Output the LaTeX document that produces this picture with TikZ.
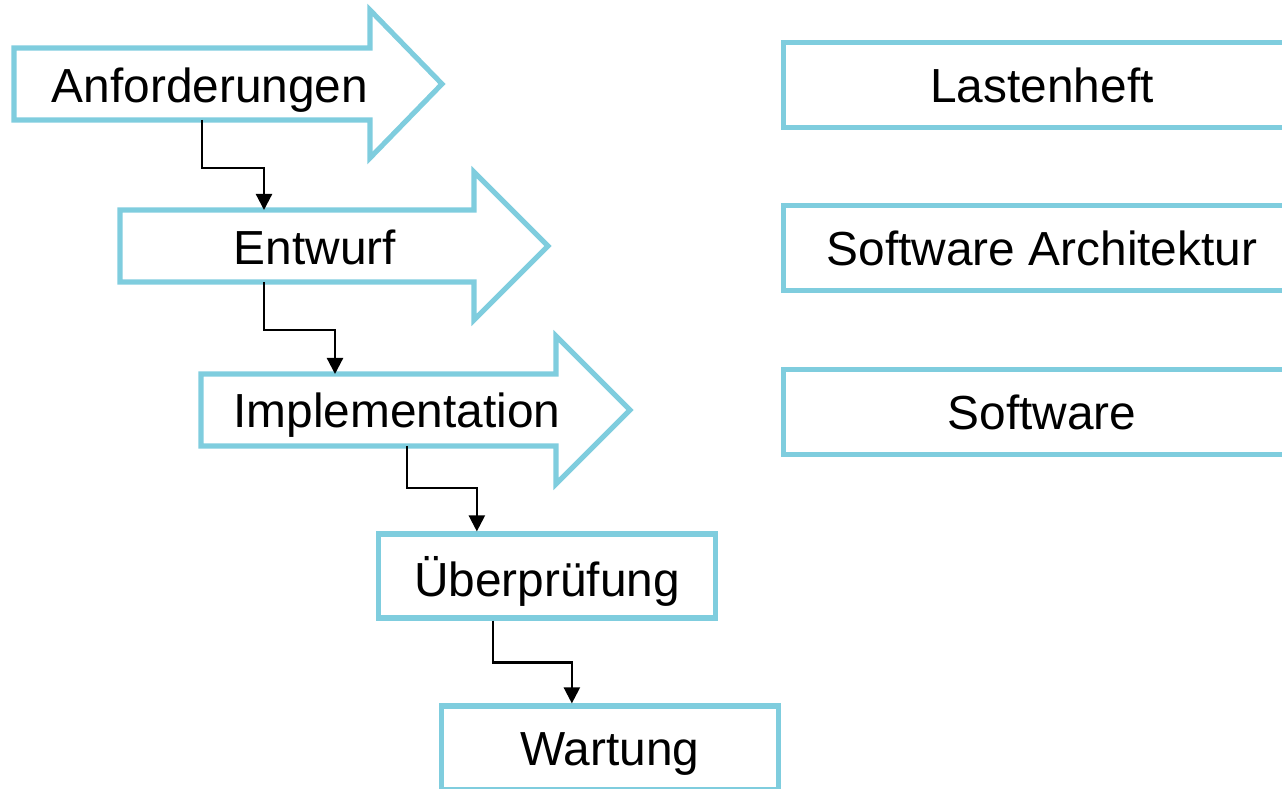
\documentclass[tikz,border=0pt]{standalone}
\usepackage{fontspec}
\setmainfont{Liberation Sans}
\usepackage{tikz}
\usetikzlibrary{arrows.meta, positioning, calc}
\definecolor{phaseblue}{RGB}{127,205,222}

\begin{document}
\begin{tikzpicture}[
    x=0.01cm, y=-0.01cm,
    phase/.style={draw=phaseblue, line width=1.45pt, line join=miter},
    docbox/.style={rectangle, draw=phaseblue, line width=1.45pt, minimum width=5.16cm, minimum height=0.85cm},
    stepbox/.style={rectangle, draw=phaseblue, line width=1.45pt, minimum width=3.37cm, minimum height=0.84cm},
    phasetxt/.style={anchor=base, inner sep=0pt, font=\fontsize{13.6}{16}\selectfont},
    link/.style={-{Triangle[length=0.16cm, width=0.16cm]}, line width=0.65pt}
]
    \clip (0,0) rectangle (1282,789);

    % Phase arrows
    \draw[phase] (14,48) -- (370,48) -- (370,10) -- (442,84) -- (370,158) -- (370,120) -- (14,120) -- cycle;
    \node[phasetxt] (anf) at (210,103) {Anforderungen};
    \coordinate (anf-out) at (202,120);

    \draw[phase] (120,210) -- (474,210) -- (474,172) -- (548,246) -- (474,320) -- (474,282) -- (120,282) -- cycle;
    \node[phasetxt] (ent) at (315,265) {Entwurf};
    \coordinate (ent-in) at (264,210);
    \coordinate (ent-out) at (264,282);

    \draw[phase] (201,374) -- (556,374) -- (556,336) -- (630,410) -- (556,484) -- (556,446) -- (201,446) -- cycle;
    \node[phasetxt] (imp) at (397,428) {Implementation};
    \coordinate (imp-in) at (335,374);
    \coordinate (imp-out) at (407,446);

    % Boxes
    \node[stepbox] (ueb) at (547,576) {};
    \node[phasetxt] at (547,597) {Überprüfung};
    \node[stepbox] (wart) at (610,748) {};
    \node[phasetxt] at (610,766) {Wartung};

    % Results
    \node[docbox] (lh) at (1042,85) {};
    \node[phasetxt] at (1042,103) {Lastenheft};
    \node[docbox] (arch) at (1042,248) {};
    \node[phasetxt] at (1042,266) {Software Architektur};
    \node[docbox] (sw) at (1042,412) {};
    \node[phasetxt] at (1042,430) {Software};

    % Connectors
    \draw[link] (anf-out) -- ++(0,48) -| (ent-in);
    \draw[link] (ent-out) -- ++(0,48) -| (imp-in);
    \draw[link] (imp-out) -- ++(0,42) -| ($(ueb.north west)+(101,0)$);
    \draw[link] ($(ueb.south west)+(117,0)$) -- ++(0,42) -| ($(wart.north west)+(133,0)$);
\end{tikzpicture}
\end{document}
